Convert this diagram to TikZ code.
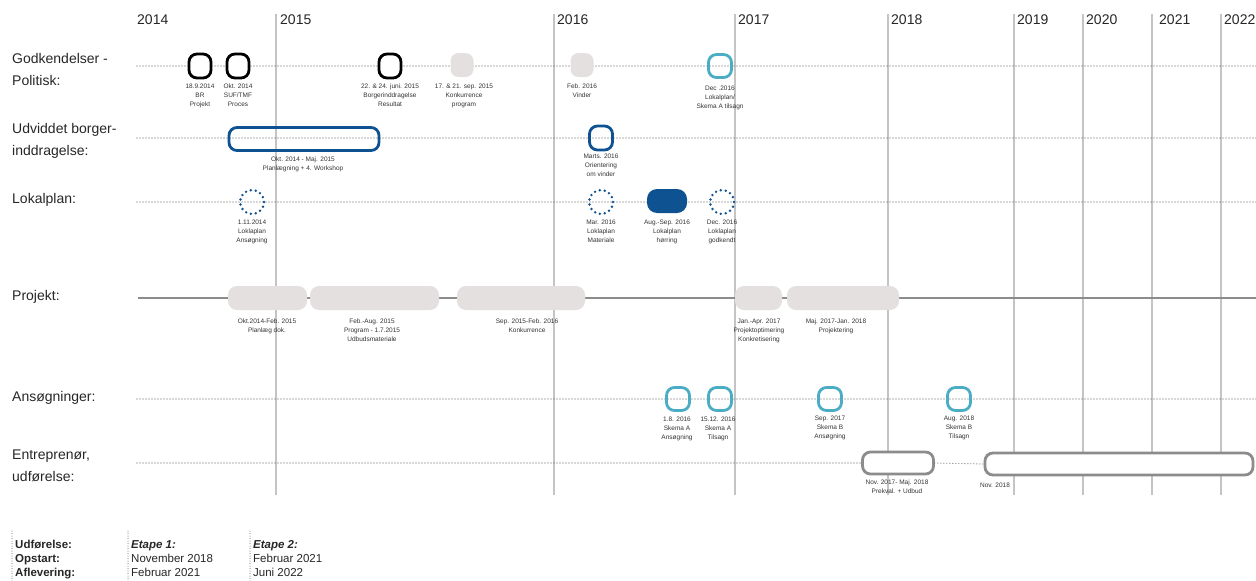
\documentclass[tikz,border=0pt]{standalone}
\usepackage{fontspec}
\setmainfont{Liberation Sans}
\usepackage{tikz}

\definecolor{tealc}{HTML}{4BACC6}
\definecolor{bluec}{HTML}{0F5291}
\definecolor{barc}{HTML}{E3E0DF}
\definecolor{entrc}{HTML}{8C8C8C}
\definecolor{yearc}{HTML}{C4C4C4}
\definecolor{dotc}{HTML}{555555}

\tikzset{
  yearline/.style={yearc, line width=1.4pt},
  yearlbl/.style={anchor=west, inner sep=0pt, font=\fontsize{14}{16}\selectfont, text=black!85},
  rowlbl/.style={anchor=west, align=left, inner sep=0pt, font=\fontsize{14}{22}\selectfont, text=black!85},
  dotline/.style={dotc, line width=1.15pt, dash pattern=on 0pt off 3pt, line cap=round},
  lbl/.style={anchor=north, align=center, inner sep=0pt, font=\fontsize{6.5}{9}\selectfont, text=black!80},
  blackmark/.style={draw=black, fill=white, line width=2.8pt, rounded corners=8pt, minimum width=22pt, minimum height=24pt, inner sep=0pt},
  graymark/.style={fill=barc, rounded corners=8pt, minimum width=23pt, minimum height=24pt, inner sep=0pt},
  tealmark/.style={draw=tealc, line width=2.8pt, rounded corners=8pt, minimum width=23pt, minimum height=23pt, inner sep=0pt},
  bluemark/.style={draw=bluec, line width=2.8pt, rounded corners=8pt, minimum width=23pt, minimum height=24pt, inner sep=0pt},
  dotmark/.style={circle, draw=bluec, line width=2.7pt, dash pattern=on 0pt off 5pt, line cap=round, minimum size=24pt, inner sep=0pt},
  projbar/.style={fill=barc, rounded corners=9pt, minimum height=24pt, inner sep=0pt},
  entrbar/.style={draw=entrc, fill=white, line width=2.8pt, rounded corners=8pt, minimum height=22pt, inner sep=0pt},
  legtxt/.style={anchor=base west, inner sep=0pt, font=\fontsize{11.5}{13}\selectfont, text=black!85},
  legbold/.style={legtxt, font=\fontsize{11.5}{13}\selectfont\bfseries},
  legline/.style={dotc, line width=1pt, dash pattern=on 0pt off 2.5pt, line cap=round}
}

\begin{document}
\begin{tikzpicture}[x=1pt, y=-1pt]
\useasboundingbox (0,0) rectangle (1256,581);

% years
\foreach \x in {276,554,735,888,1014,1083,1152,1221}
  \draw[yearline] (\x,14) -- (\x,495);
\foreach \x/\yr in {137/2014,280/2015,557/2016,738/2017,891/2018,1017/2019,1086/2020,1159/2021,1224/2022}
  \node[yearlbl] (y\yr) at (\x,20) {\yr};

% row labels
\node[rowlbl] (rgod) at (12,69) {Godkendelser -\\Politisk:};
\node[rowlbl] (rudv) at (12,141) {Udviddet borger-\\inddragelse:};
\node[rowlbl] (rlok) at (12,200) {Lokalplan:};
\node[rowlbl] (rpro) at (12,297) {Projekt:};
\node[rowlbl] (rans) at (12,398) {Ansøgninger:};
\node[rowlbl] (rent) at (12,466) {Entreprenør,\\udførelse:};

% row lines
\coordinate (gstart) at (137,66);  \coordinate (gend) at (1256,66);
\coordinate (ustart) at (137,138); \coordinate (uend) at (1256,138);
\coordinate (lstart) at (137,202); \coordinate (lend) at (1256,202);
\coordinate (pstart) at (138,298); \coordinate (pend) at (1256,298);
\coordinate (astart) at (137,399); \coordinate (aend) at (1256,399);
\coordinate (estart) at (137,463);
\draw[dotline] (gstart) -- (gend);
\draw[dotline] (ustart) -- (uend);
\draw[dotline] (lstart) -- (lend);
\draw[dotline] (astart) -- (aend);
\draw[entrc, line width=2pt] (pstart) -- (pend);

% Godkendelser - Politisk
\node[blackmark] (g1) at (200,66) {};
\node[lbl] (g1t) at (200,84) {18.9.2014\\BR\\Projekt};
\node[blackmark] (g2) at (238,66) {};
\node[lbl] (g2t) at (238,84) {Okt. 2014\\SUF/TMF\\Proces};
\node[blackmark] (g3) at (390,66) {};
\node[lbl] (g3t) at (390,84) {22. \& 24. juni. 2015\\Borgerinddragelse\\Resultat};
\node[graymark] (g4) at (462,65) {};
\node[lbl] (g4t) at (464,84) {17. \& 21. sep. 2015\\Konkurrence\\program};
\node[graymark] (g5) at (582,65) {};
\node[lbl] (g5t) at (582,84) {Feb. 2016\\Vinder};
\node[tealmark] (g6) at (720,66) {};
\node[lbl] (g6t) at (720,86) {Dec .2016\\Lokalplan/\\Skema A tilsagn};

% Udviddet borgerinddragelse
\node[bluemark, minimum width=150pt, minimum height=23pt] (u1) at (304,139) {};
\node[lbl] (u1t) at (303,157) {Okt. 2014 - Maj. 2015\\Planlægning + 4. Workshop};
\node[bluemark] (u2) at (601,138) {};
\node[lbl] (u2t) at (601,154) {Marts. 2016\\Orientering\\om vinder};

% Lokalplan
\node[dotmark] (l1) at (252,202) {};
\node[lbl] (l1t) at (252,220) {1.11.2014\\Loklaplan\\Ansøgning};
\node[dotmark] (l2) at (601,202) {};
\node[lbl] (l2t) at (601,220) {Mar. 2016\\Loklaplan\\Materiale};
\node[fill=bluec, rounded corners=10pt, minimum width=40pt, minimum height=24pt, inner sep=0pt] (l3) at (667,201) {};
\node[lbl] (l3t) at (667,220) {Aug.-Sep. 2016\\Lokalplan\\hørring};
\node[dotmark] (l4) at (722,202) {};
\node[lbl] (l4t) at (722,220) {Dec. 2016\\Loklaplan\\godkendt};

% Projekt
\node[projbar, minimum width=79pt] (p1) at (267.5,298) {};
\node[lbl] (p1t) at (267,319) {Okt.2014-Feb. 2015\\Planlæg dok.};
\node[projbar, minimum width=129pt] (p2) at (374.5,298) {};
\node[lbl] (p2t) at (372,319) {Feb.-Aug. 2015\\Program - 1.7.2015\\Udbudsmateriale};
\node[projbar, minimum width=128pt] (p3) at (521,298) {};
\node[lbl] (p3t) at (527,319) {Sep. 2015-Feb. 2016\\Konkurrence};
\node[projbar, minimum width=47pt] (p4) at (758.5,298) {};
\node[lbl] (p4t) at (759,319) {Jan.-Apr. 2017\\Projektoptimering\\Konkretisering};
\node[projbar, minimum width=112pt] (p5) at (843,298) {};
\node[lbl] (p5t) at (836,319) {Maj. 2017-Jan. 2018\\Projektering};

% Ansøgninger
\node[tealmark] (a1) at (678,399) {};
\node[lbl] (a1t) at (677,417) {1.8. 2016\\Skema A\\Ansøgning};
\node[tealmark] (a2) at (720,399) {};
\node[lbl] (a2t) at (718,417) {15.12. 2016\\Skema A\\Tilsagn};
\node[tealmark] (a3) at (830,399) {};
\node[lbl] (a3t) at (830,416) {Sep. 2017\\Skema B\\Ansøgning};
\node[tealmark] (a4) at (959,399) {};
\node[lbl] (a4t) at (959,416) {Aug. 2018\\Skema B\\Tilsagn};

% Entreprenør, udførelse
\node[entrbar, minimum width=71pt] (e1) at (898,463) {};
\node[lbl] (e1t) at (897,480) {Nov. 2017- Maj. 2018\\Prekval. + Udbud};
\node[entrbar, minimum width=268pt] (e2) at (1119,464) {};
\node[lbl] (e2t) at (995,483) {Nov. 2018};
\draw[dotline] (estart) -- (e1.west);
\draw[dotline] (e1.east) -- (e2.west);

% legend
\draw[legline] (12,531) -- (12,581);
\draw[legline] (128,531) -- (128,581);
\draw[legline] (250,531) -- (250,581);
\node[legbold] (k1) at (15,548) {Udførelse:};
\node[legbold] (k2) at (15,562) {Opstart:};
\node[legbold] (k3) at (15,576) {Aflevering:};
\node[legtxt, font=\fontsize{11.5}{13}\selectfont\bfseries\itshape] (s1) at (131,548) {Etape 1:};
\node[legtxt] (s1a) at (131,562) {November 2018};
\node[legtxt] (s1b) at (131,576) {Februar 2021};
\node[legtxt, font=\fontsize{11.5}{13}\selectfont\bfseries\itshape] (s2) at (253,548) {Etape 2:};
\node[legtxt] (s2a) at (253,562) {Februar 2021};
\node[legtxt] (s2b) at (253,576) {Juni 2022};

\end{tikzpicture}
\end{document}
